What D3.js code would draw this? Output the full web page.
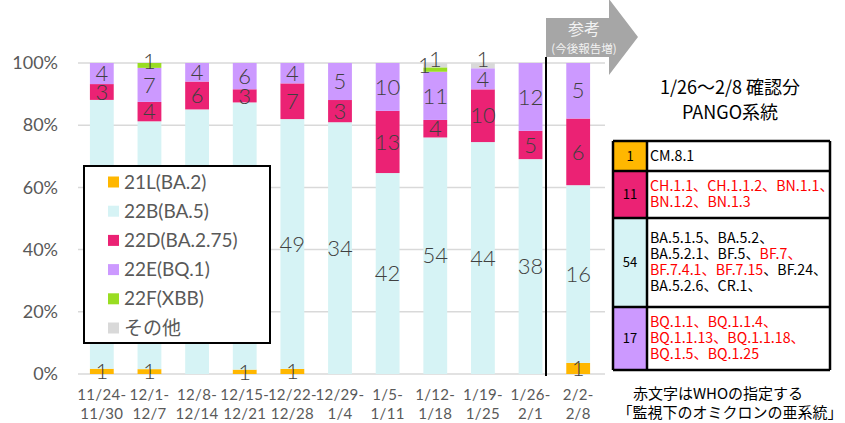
<html>
<head>
    <meta charset="utf-8">
    <title>PANGO</title>
    <script src="https://cdn.jsdelivr.net/npm/d3@7"></script>
    <style>
        body { margin: 0; background: #fff; }
        text { font-family: Lato, "Noto Sans", "Noto Sans CJK JP", sans-serif; }
        .jp { font-family: "Noto Sans CJK JP", sans-serif; }
    </style>
</head>
<body>
<svg id="chart"></svg>
<script>
// week labels (two lines)
const weeksTop = ['11/24-', '12/1-', '12/8-', '12/15-', '12/22-', '12/29-', '1/5-', '1/12-', '1/19-', '1/26-', '2/2-'];
const weeksBottom = ['11/30', '12/7', '12/14', '12/21', '12/28', '1/4', '1/11', '1/18', '1/25', '2/1', '2/8'];

// counts per lineage per week
const lineages = ['21L(BA.2)', '22B(BA.5)', '22D(BA.2.75)', '22E(BQ.1)', '22F(XBB)', 'その他'];
const s21L = [1, 1, 0, 1, 1, 0, 0, 0, 0, 0, 1];
const s22B = [51, 51, 57, 61, 49, 34, 42, 54, 44, 38, 16];
const s22D = [3, 4, 6, 3, 7, 3, 13, 4, 10, 5, 6];
const s22E = [4, 7, 4, 6, 4, 5, 10, 11, 4, 12, 5];
const s22F = [0, 1, 0, 0, 0, 0, 0, 1, 0, 0, 0];
const sOther = [0, 0, 0, 0, 0, 0, 0, 1, 1, 0, 0];
const colors = ['#FFB700', '#D6F3F5', '#EB2274', '#CC99FF', '#99DD22', '#D9D9D9'];

const yTicks = [0, 0.2, 0.4, 0.6, 0.8, 1];

// table on the right
const tableCounts = [1, 11, 54, 17];
const tableColors = ['#FFB700', '#EB2274', '#D6F3F5', '#CC99FF'];
// each line is a list of [text, isRed]
const tableLines = [
    [[['CM.8.1', false]]],
    [[['CH.1.1、CH.1.1.2、BN.1.1、', true]], [['BN.1.2、BN.1.3', true]]],
    [[['BA.5.1.5、BA.5.2、', false]],
     [['BA.5.2.1、BF.5、', false], ['BF.7、', true]],
     [['BF.7.4.1、BF.7.15', true], ['、BF.24、', false]],
     [['BA.5.2.6、CR.1、', false]]],
    [[['BQ.1.1、BQ.1.1.4、', true]], [['BQ.1.1.13、BQ.1.1.18、', true]], [['BQ.1.5、BQ.1.25', true]]]
];

const W = 845, H = 423;
const svg = d3.select('#chart').attr('width', W).attr('height', H);

const x = d3.scaleBand().domain(d3.range(weeksTop.length)).range([78, 602]).paddingInner(0.5).paddingOuter(0.25);
const y = d3.scaleLinear().domain([0, 1]).range([374, 63]);

// gridlines + y labels
svg.append('g').selectAll('line').data(yTicks).join('line')
    .attr('x1', 78).attr('x2', 605)
    .attr('y1', d => y(d)).attr('y2', d => y(d))
    .attr('stroke', '#D9D9D9').attr('stroke-width', 1.5);

const yAxis = d3.axisLeft(y).tickValues(yTicks).tickFormat(d3.format('.0%')).tickSize(0).tickPadding(20);
const ya = svg.append('g').attr('transform', 'translate(78,0)').call(yAxis);
ya.select('.domain').remove();
ya.selectAll('text').attr('font-size', 18).attr('fill', '#595959')
    .attr('font-family', 'Lato, sans-serif');

// stacked percentage data
const rows = weeksTop.map((w, i) => {
    const vals = [s21L[i], s22B[i], s22D[i], s22E[i], s22F[i], sOther[i]];
    const total = d3.sum(vals);
    const r = { i: i, total: total };
    lineages.forEach((k, j) => r[k] = vals[j] / total);
    r.counts = vals;
    return r;
});
const stack = d3.stack().keys(lineages);
const series = stack(rows);

const g = svg.append('g');
series.forEach((s, j) => {
    g.append('g').selectAll('rect').data(s).join('rect')
        .attr('x', d => x(d.data.i))
        .attr('width', x.bandwidth())
        .attr('y', d => y(d[1]))
        .attr('height', d => Math.max(0, y(d[0]) - y(d[1])))
        .attr('fill', colors[j]);
});

// segment labels
series.forEach((s, j) => {
    g.append('g').selectAll('text').data(s.filter(d => d.data.counts[j] > 0)).join('text')
        .attr('x', d => {
            let cx = x(d.data.i) + x.bandwidth() / 2;
            // nudge small top labels apart when two share a bar
            if (j === 4 && d.data.counts[5] > 0) cx -= 11;
            return cx;
        })
        .attr('y', d => {
            let cy = (y(d[0]) + y(d[1])) / 2;
            if (j >= 4) cy -= 4;
            if (j === 5) cy -= 2;
            return cy;
        })
        .attr('dy', '0.35em')
        .attr('text-anchor', 'middle')
        .attr('font-size', 22)
        .attr('font-weight', 300)
        .attr('fill', '#404040')
        .text(d => d.data.counts[j]);
});

// x labels
const xl = svg.append('g');
xl.selectAll('text.t').data(weeksTop).join('text').attr('class', 't')
    .attr('x', (d, i) => x(i) + x.bandwidth() / 2).attr('y', 400)
    .attr('text-anchor', 'middle').attr('font-size', 15).attr('fill', '#595959')
    .attr('letter-spacing', 0.3).text(d => d);
xl.selectAll('text.b').data(weeksBottom).join('text').attr('class', 'b')
    .attr('x', (d, i) => x(i) + x.bandwidth() / 2).attr('y', 419)
    .attr('text-anchor', 'middle').attr('font-size', 15).attr('fill', '#595959')
    .attr('letter-spacing', 0.3).text(d => d);

// reference divider + arrow
const divX = 546;
svg.append('path')
    .attr('d', `M${divX},18 L609,18 L609,-1 L638,37 L609,75 L609,57 L${divX},57 Z`)
    .attr('fill', '#A6A6A6');
svg.append('line').attr('x1', divX).attr('x2', divX).attr('y1', 57).attr('y2', 376)
    .attr('stroke', '#000').attr('stroke-width', 2);
svg.append('text').attr('class', 'jp').attr('x', 584).attr('y', 29).attr('dy', '0.35em').attr('text-anchor', 'middle')
    .attr('font-size', 16).attr('fill', '#F2F2F2').text('参考');
svg.append('text').attr('class', 'jp').attr('x', 584).attr('y', 49).attr('dy', '0.35em').attr('text-anchor', 'middle')
    .attr('font-size', 11.5).attr('fill', '#F2F2F2').text('(今後報告増)');

// legend
const lg = svg.append('g');
lg.append('rect').attr('x', 84).attr('y', 166).attr('width', 186).attr('height', 177)
    .attr('fill', '#fff').attr('stroke', '#000').attr('stroke-width', 2);
lineages.forEach((k, j) => {
    const ly = 182 + j * 29.2;
    lg.append('rect').attr('x', 108).attr('y', ly - 5.5).attr('width', 11).attr('height', 11).attr('fill', colors[j]);
    lg.append('text').attr('x', 124).attr('y', ly).attr('dy', '0.35em')
        .attr('font-size', 19).attr('fill', '#595959')
        .attr('font-family', j === 5 ? '"Noto Sans CJK JP", sans-serif' : 'Lato, sans-serif')
        .text(k);
});

// right panel title
svg.append('text').attr('class', 'jp').attr('x', 730).attr('y', 94).attr('text-anchor', 'middle')
    .attr('font-size', 18).attr('fill', '#000').text('1/26～2/8 確認分');
svg.append('text').attr('class', 'jp').attr('x', 730).attr('y', 119).attr('text-anchor', 'middle')
    .attr('font-size', 18).attr('fill', '#000').text('PANGO系統');

// table
const rowEdges = [141, 171, 218, 307, 370];
const tx0 = 613, tx1 = 647, tx2 = 830;
const tg = svg.append('g');
tableCounts.forEach((c, r) => {
    const y0 = rowEdges[r], y1 = rowEdges[r + 1];
    tg.append('rect').attr('x', tx0).attr('y', y0).attr('width', tx1 - tx0).attr('height', y1 - y0)
        .attr('fill', tableColors[r]);
    tg.append('rect').attr('x', tx1).attr('y', y0).attr('width', tx2 - tx1).attr('height', y1 - y0)
        .attr('fill', '#fff');
    tg.append('text').attr('class', 'jp').attr('x', (tx0 + tx1) / 2).attr('y', (y0 + y1) / 2)
        .attr('dy', '0.35em').attr('text-anchor', 'middle').attr('font-size', 13).attr('fill', '#000').text(c);
    const lines = tableLines[r];
    const lh = 16;
    const start = (y0 + y1) / 2 - (lines.length - 1) * lh / 2;
    lines.forEach((parts, li) => {
        const t = tg.append('text').attr('class', 'jp').attr('x', tx1 + 3).attr('y', start + li * lh)
            .attr('dy', '0.35em').attr('font-size', 14.2);
        parts.forEach(p => t.append('tspan').attr('fill', p[1] ? '#FF0000' : '#000').text(p[0]));
    });
});
tg.selectAll('line.h').data(rowEdges).join('line').attr('class', 'h')
    .attr('x1', tx0).attr('x2', tx2).attr('y1', d => d).attr('y2', d => d)
    .attr('stroke', '#000').attr('stroke-width', 2.5);
[tx0, tx1, tx2].forEach(xx => {
    tg.append('line').attr('x1', xx).attr('x2', xx).attr('y1', rowEdges[0]).attr('y2', rowEdges[4])
        .attr('stroke', '#000').attr('stroke-width', 2.5);
});

// footnote
svg.append('text').attr('class', 'jp').attr('x', 718).attr('y', 394).attr('dy', '0.35em')
    .attr('text-anchor', 'middle').attr('font-size', 15).attr('fill', '#000').text('赤文字はWHOの指定する');
svg.append('text').attr('class', 'jp').attr('x', 730).attr('y', 413).attr('dy', '0.35em')
    .attr('text-anchor', 'middle').attr('font-size', 15).attr('fill', '#000').text('「監視下のオミクロンの亜系統」');
</script>
</body>
</html>
